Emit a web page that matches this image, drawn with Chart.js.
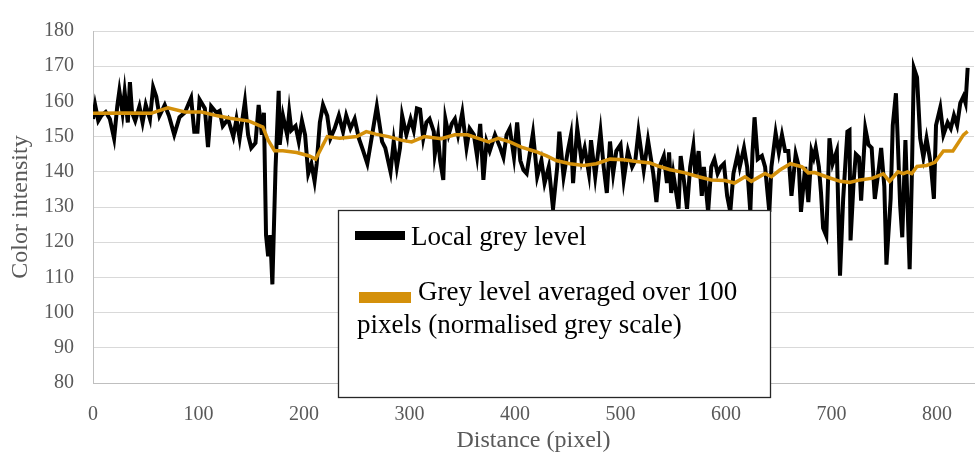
<!DOCTYPE html>
<html>
<head>
<meta charset="utf-8">
<script src="https://cdn.jsdelivr.net/npm/chart.js@4"></script>
<style>
  html, body { margin: 0; padding: 0; background: #fff; }
  #wrap { width: 978px; height: 460px; }
</style>
</head>
<body>
<div id="wrap"><canvas id="chart" width="978" height="460"></canvas></div>
<script>
// local grey level
var localDistance = [0,2,5,8,12,16,20,23,25,28,30,33,35,37,40,44,47,50,54,57,60,63,68,72,77,82,87,93,96,99,101,106,109,112,117,120,123,128,130,133,136,139,144,147,150,154,157,160,162,164,166,168,170,173,176,177,180,184,186,188,192,195,198,201,204,207,210,212,215,218,222,225,229,233,237,240,244,248,252,256,260,264,269,274,277,282,285,288,291,293,297,301,304,307,310,313,316,319,323,324,327,329,332,334,337,340,343,346,350,354,357,361,364,367,370,373,376,381,386,389,392,395,399,402,405,408,411,417,419,421,425,428,432,436,440,442,446,450,453,455,457,459,463,466,470,472,476,481,484,487,490,493,496,500,503,507,511,514,517,522,526,531,534,537,541,544,546,548,550,555,557,560,563,566,569,571,574,577,579,583,586,589,592,595,598,601,604,607,611,613,617,620,623,625,627,630,634,637,641,643,647,650,653,656,659,662,666,669,671,675,678,681,683,685,688,690,692,695,698,701,705,708,711,715,717,718,721,723,726,728,732,735,738,741,745,747,750,752,756,758,761,763,765,767,770,774,776,778,781,784,787,790,794,797,799,803,806,810,813,816,819,822,825,827,829];
var localGrey = [155,159,154.5,156,157,155,149.5,158.6,163,156.8,162.7,154,165.5,156.8,154.5,158.6,154,159,155,164,161.3,155.9,159,155.9,150.5,155.5,156.8,161,151.4,151.4,160.5,158,147,158.6,156.8,157.3,153,155,153,150,155,149.5,160,150.5,146.8,148.2,159,150.5,156.8,122,116,122,108,141,163,147.7,156,150.5,157,151.8,153,148.6,154.5,150.5,139.5,142.3,137.3,142.3,154,159,155.9,149.5,152.3,156,151.4,156,152.3,155,149.5,146,142.3,149.5,158.6,148.6,146.8,140,148.6,141.4,146.8,156,150.5,155,151.8,158,157.7,149.5,154,155,151.4,145,150.5,143.2,137.7,155,150.5,153.6,155,150.5,156.8,146.8,152.3,150.5,144.5,153.6,137.7,148.6,145.9,150.5,146.8,144.1,150.5,152.3,144.1,154,143.2,140.5,139.5,151,145,138.6,143.2,136.8,141.4,129.5,141.4,151.4,138.6,145.9,150.5,136.8,145,152.3,143.2,146.8,139.5,149,138.6,151.4,141.4,134,148.6,139.5,145.9,147.7,137.7,145.9,141.4,143.2,151.4,140.5,149,139.5,131.4,141.4,144.5,136.8,145.5,134,139.5,129.5,144.5,137.7,129.5,141.4,147.3,138.6,145.9,133.2,141.4,128.6,141.4,143.6,139.5,141.4,142.3,133.2,128.6,139.5,145,141.4,146.8,141.4,128.6,145,155.5,143.6,144.5,141.4,128.6,141.4,151,145.5,150.5,145.9,145.9,133.2,145,141.4,128.6,141.4,131.4,145.9,144,146.8,141.4,134,124,121.8,149.5,142.3,145.9,110.5,132.3,151.4,151.8,120.5,137.7,145,144.1,131.8,152.3,147.7,146.8,132.3,141.4,146.8,135.9,113.6,132.3,153.2,162.3,146.8,130.5,121.4,149,112.3,137.7,169.5,166.8,149.5,144.1,149.5,142.3,132.3,153.2,158.2,150.5,154,152.3,156,153.2,159.5,161.4,159.5,169.5];

// grey level averaged over 100 pixels
var avgDistance = [0,30,55,71,87,103,118,130,148,161,166,172,180,193,205,211,222,234,250,259,268,280,292,302,314,330,343,355,365,375,384,395,406,420,430,439,452,465,477,490,503,515,528,537,547,552,561,574,586,599,608,618,624,637,643,651,661,672,678,684,695,708,717,727,739,749,755,763,768,772,776,781,790,798,806,815,820,825,829];
var avgGrey = [156.6,156.7,156.6,158.2,157,157,155.9,155.2,154.4,152.7,149,146,146,145.5,144.5,143.6,150,149.5,150,151.4,150.7,150,149,148.5,150,149.4,150.5,150.5,149.5,148.5,149.5,148.5,147,145.7,144.5,143.2,142.3,141.8,142.3,143.6,143.4,142.9,142.5,141.5,140.6,140.3,139.7,138.6,137.7,137.5,136.8,138.6,137.3,139.5,138.6,140.5,142.3,141.4,139.7,139.8,138.6,137.3,137,137.7,138.2,139.4,137.3,140,139.5,140,139.5,141.5,141.8,142.7,145.9,145.9,148.2,150.5,151.5];

var xTicks = [0, 100, 200, 300, 400, 500, 600, 700, 800];
var yMin = 80, yMax = 180, yStep = 10;

var seriesNames = ['Local grey level', 'Grey level averaged over 100 pixels (normalised grey scale)'];
var seriesColors = ['#000000', '#d4900a'];

function toPoints(xs, ys) {
  var pts = [];
  for (var i = 0; i < xs.length; i++) pts.push({ x: xs[i], y: ys[i] });
  return pts;
}

var serif = "'Liberation Serif', 'Times New Roman', serif";

// boxed legend in the middle of the plot, like the original
var boxLegend = {
  id: 'boxLegend',
  afterDraw: function (chart) {
    var ctx = chart.ctx;
    ctx.save();
    ctx.fillStyle = '#ffffff';
    ctx.fillRect(338, 210, 433, 188);
    ctx.strokeStyle = '#262626';
    ctx.lineWidth = 1.3;
    ctx.strokeRect(338.5, 210.5, 432, 187);

    ctx.font = '27px ' + serif;
    ctx.textBaseline = 'alphabetic';
    ctx.fillStyle = '#000000';

    // first entry
    ctx.fillStyle = seriesColors[0];
    ctx.fillRect(355, 231, 50, 9);
    ctx.fillStyle = '#000000';
    ctx.fillText(seriesNames[0], 411, 245);

    // second entry, wrapped
    ctx.fillStyle = seriesColors[1];
    ctx.fillRect(359, 292, 52, 11);
    ctx.fillStyle = '#000000';
    var words = seriesNames[1].split(' ');
    var line = '', lines = [], startX = 418, maxRight = 755, x0 = startX;
    for (var i = 0; i < words.length; i++) {
      var test = line ? line + ' ' + words[i] : words[i];
      if (ctx.measureText(test).width > maxRight - x0 && line) {
        lines.push({ text: line, x: x0 });
        line = words[i];
        x0 = 357;
      } else {
        line = test;
      }
    }
    lines.push({ text: line, x: x0 });
    for (var j = 0; j < lines.length; j++) {
      ctx.fillText(lines[j].text, lines[j].x, 300 + j * 33);
    }
    ctx.restore();
  }
};

var chart = new Chart(document.getElementById('chart'), {
  type: 'scatter',
  data: {
    datasets: [{
      label: seriesNames[0],
      data: toPoints(localDistance, localGrey),
      showLine: true,
      borderColor: seriesColors[0],
      backgroundColor: seriesColors[0],
      borderWidth: 4,
      pointRadius: 0,
      tension: 0,
      order: 2
    }, {
      label: seriesNames[1],
      data: toPoints(avgDistance, avgGrey),
      showLine: true,
      borderColor: seriesColors[1],
      backgroundColor: seriesColors[1],
      borderWidth: 3.5,
      pointRadius: 0,
      tension: 0,
      order: 1
    }]
  },
  options: {
    responsive: false,
    animation: false,
    layout: { padding: { left: 0, right: 4, top: 18, bottom: 0 } },
    plugins: {
      legend: { display: false },
      tooltip: { enabled: false }
    },
    scales: {
      x: {
        type: 'linear',
        min: 0,
        max: 835,
        afterBuildTicks: function (s) { s.ticks = xTicks.map(function (v) { return { value: v }; }); },
        afterFit: function (s) { s.height = 77; },
        grid: { display: false, drawTicks: false },
        border: { display: true, color: '#bfbfbf', width: 1 },
        ticks: { padding: 20, color: '#595959', font: { family: serif, size: 20 }, maxRotation: 0, autoSkip: false },
        title: { display: true, text: 'Distance (pixel)', color: '#595959', font: { family: serif, size: 24 }, padding: { top: 0, bottom: 5 } }
      },
      y: {
        min: yMin,
        max: yMax,
        afterFit: function (s) { s.width = 93; },
        grid: { color: '#d9d9d9', lineWidth: 1, drawTicks: false },
        border: { display: true, color: '#bfbfbf', width: 1 },
        ticks: { stepSize: yStep, padding: 19, color: '#595959', font: { family: serif, size: 20 } },
        title: { display: true, text: 'Color intensity', color: '#595959', font: { family: serif, size: 24 }, padding: { top: 6, bottom: 0 } }
      }
    }
  },
  plugins: [boxLegend]
});
</script>
</body>
</html>
